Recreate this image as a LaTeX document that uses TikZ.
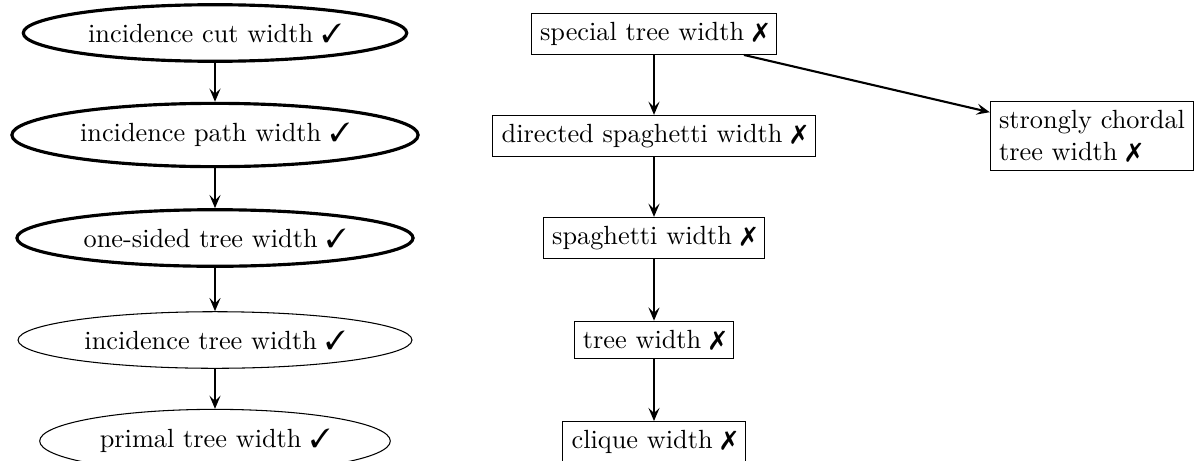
\documentclass[tikz,border=0pt]{standalone}
\usepackage{pifont}
\usetikzlibrary{shapes.geometric, arrows.meta}

\newcommand{\yes}{\ding{51}}
\newcommand{\no}{\ding{55}}

\tikzset{
  measure/.style={ellipse, draw, inner xsep=3.33pt, inner ysep=4pt},
  strongm/.style={measure, very thick},
  weakm/.style={measure, thin},
  boxm/.style={rectangle, draw, thin, inner sep=3.33pt},
  implies/.style={-{Stealth[length=5pt, width=4.2pt, inset=2pt]}, thick},
}

\begin{document}
\begin{tikzpicture}[x=0.3802pt, y=-0.3802pt]
  \useasboundingbox (0,0) rectangle (1196,460);

  % left column: incidence-based measures
  \node[strongm] (icw) at (215,33)  {incidence cut width \yes};
  \node[strongm] (ipw) at (215,135) {incidence path width \yes};
  \node[strongm] (otw) at (215,238) {one-sided tree width \yes};
  \node[weakm]   (itw) at (215,340) {incidence tree width \yes};
  \node[weakm]   (ptw) at (215,441) {primal tree width \yes};

  % right column: measures without the property
  \node[boxm] (stw) at (654,34)  {special tree width \no};
  \node[boxm] (dsw) at (654,136) {directed spaghetti width \no};
  \node[boxm] (sw)  at (654,238) {spaghetti width \no};
  \node[boxm] (tw)  at (654,340) {tree width \no};
  \node[boxm] (cw)  at (654,442) {clique width \no};
  \node[boxm, align=left] (sctw) at (1092,136) {strongly chordal\\tree width \no};

  % implications
  \draw[implies] (icw) -- (ipw);
  \draw[implies] (ipw) -- (otw);
  \draw[implies] (otw) -- (itw);
  \draw[implies] (itw) -- (ptw);

  \draw[implies] (stw) -- (dsw);
  \draw[implies] (dsw) -- (sw);
  \draw[implies] (sw) -- (tw);
  \draw[implies] (tw) -- (cw);
  \draw[implies] (stw) -- (sctw);
\end{tikzpicture}
\end{document}
